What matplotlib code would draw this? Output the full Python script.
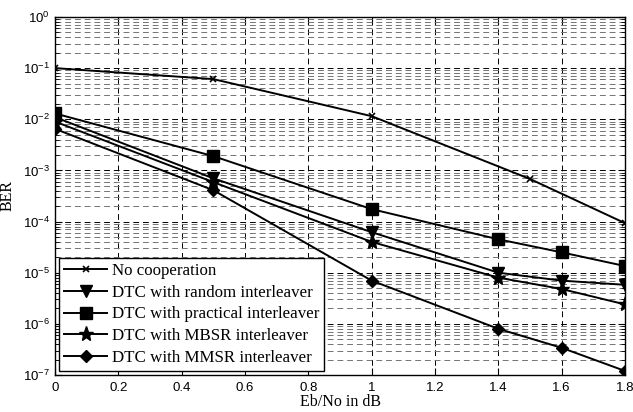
import matplotlib
matplotlib.use("Agg")
import matplotlib.pyplot as plt
from matplotlib.ticker import LogLocator, MultipleLocator, NullFormatter, FuncFormatter

# Eb/No points (dB)
snr_nocoop = [0.0, 0.5, 1.0, 1.5, 1.8]
snr = [0.0, 0.5, 1.0, 1.4, 1.6, 1.8]

# BER curves
ber_nocoop = [1.0e-1, 6.1e-2, 1.15e-2, 6.8e-4, 9.3e-5]
ber_random = [1.1e-2, 7.0e-4, 6.2e-5, 1.0e-5, 7.0e-6, 5.8e-6]
ber_practical = [1.3e-2, 1.9e-3, 1.75e-4, 4.5e-5, 2.5e-5, 1.35e-5]
ber_mbsr = [9.0e-3, 5.9e-4, 4.0e-5, 8.0e-6, 4.8e-6, 2.4e-6]
ber_mmsr = [6.5e-3, 4.1e-4, 7.0e-6, 8.0e-7, 3.4e-7, 1.2e-7]

labels = ["No cooperation",
          "DTC with random interleaver",
          "DTC with practical interleaver",
          "DTC with MBSR interleaver",
          "DTC with MMSR interleaver"]

plt.rcParams['mathtext.fontset'] = 'custom'
plt.rcParams['mathtext.rm'] = 'Liberation Sans'
plt.rcParams['mathtext.it'] = 'Liberation Sans'

fig = plt.figure(figsize=(6.33, 4.12), dpi=100)
ax = fig.add_axes([0.0869, 0.0898, 0.9005, 0.869])

lw = 1.4
ax.semilogy(snr_nocoop, ber_nocoop, 'k-', marker='x', ms=4, mew=1.2, lw=lw, label=labels[0])
ax.semilogy(snr, ber_random, 'k-', marker='v', ms=9, lw=lw, label=labels[1])
ax.semilogy(snr, ber_practical, 'k-', marker='s', ms=8, lw=lw, label=labels[2])
ax.semilogy(snr, ber_mbsr, 'k-', marker='*', ms=11, lw=lw, label=labels[3])
ax.semilogy(snr, ber_mmsr, 'k-', marker='D', ms=6, lw=lw, label=labels[4])

ax.set_xlim(0, 1.8)
ax.set_ylim(1e-7, 1)
ax.xaxis.set_major_locator(MultipleLocator(0.2))
ax.xaxis.set_major_formatter(FuncFormatter(lambda v, p: f"{v:g}"))
ax.yaxis.set_major_locator(LogLocator(base=10, numticks=10))
ax.yaxis.set_minor_locator(LogLocator(base=10, subs=range(2, 10), numticks=100))
ax.yaxis.set_minor_formatter(NullFormatter())

ax.tick_params(which='both', direction='in', top=True, right=True,
               labelsize=9.5, labelfontfamily='Liberation Sans')
ax.tick_params(which='major', length=5)
ax.tick_params(which='minor', length=3)
ax.tick_params(axis='x', pad=5)

ax.grid(which='major', axis='both', color='k', ls=(0, (6, 4)), lw=0.7)
ax.grid(which='minor', axis='y', color='0.45', ls=(0, (6, 4)), lw=0.7)
ax.set_axisbelow(True)

for s in ax.spines.values():
    s.set_linewidth(1.0)

ax.set_xlabel("Eb/No in dB", family='Liberation Serif', fontsize=11.5, labelpad=0)
ax.set_ylabel("BER", family='Liberation Serif', fontsize=11.5, labelpad=5)

leg = ax.legend(loc='lower left', prop={'family': 'Liberation Serif', 'size': 12.2},
                handlelength=2.5, handletextpad=0.3, labelspacing=0.33,
                borderpad=0.3, borderaxespad=0.25, fancybox=False, framealpha=1,
                edgecolor='k')
leg.get_frame().set_linewidth(1.0)

fig.savefig("out.png", dpi=100)
